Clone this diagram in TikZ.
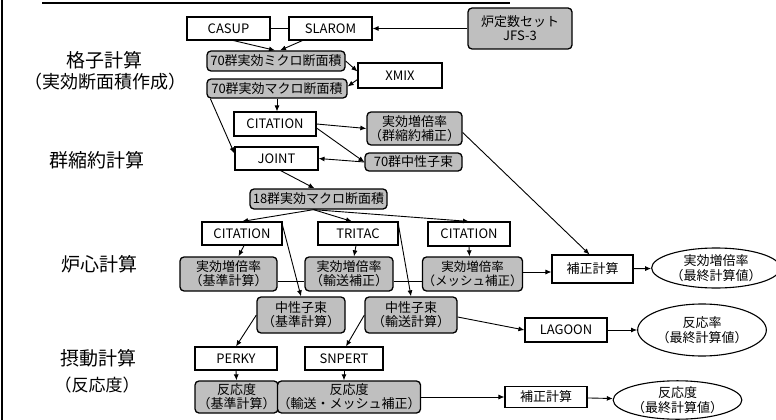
\documentclass[tikz,border=0pt]{standalone}
\usepackage{fontspec}
\setmainfont{Noto Sans CJK JP}
\usetikzlibrary{arrows.meta,shapes.geometric,calc}
\begin{document}
\begin{tikzpicture}[x=1pt,y=-1pt,
  prog/.style={draw, line width=1.1pt, fill=white, inner sep=0pt, font=\fontsize{13}{14}\selectfont},
  dat/.style={draw, line width=1.3pt, fill=gray!50, rounded corners=4pt, inner sep=0pt, align=center, font=\fontsize{13}{14}\selectfont},
  fin/.style={draw, ellipse, line width=1.1pt, fill=white, inner sep=0pt, align=center, font=\fontsize{13}{15}\selectfont},
  lbl/.style={font=\fontsize{19}{22}\selectfont, align=center},
  arr/.style={-{Latex[length=6pt,width=5pt]}, line width=0.9pt},
  ln/.style={line width=0.9pt}]
\useasboundingbox (0,0) rectangle (776,420);
\fill[white] (0,0) rectangle (776,420);
\draw[line width=1.5pt] (2,0) -- (2,420);
\draw[line width=1.5pt] (42,3) -- (510,3);

% left labels
\node[lbl] (l1) at (104,60) {格子計算};
\node[lbl, font=\fontsize{18}{21}\selectfont] (l1b) at (105,82) {（実効断面積作成）};
\node[lbl] (l2) at (97,160) {群縮約計算};
\node[lbl] (l3) at (99,264) {炉心計算};
\node[lbl] (l4) at (98,358) {摂動計算};
\node[lbl, font=\fontsize{17}{20}\selectfont] (l4b) at (97,385) {（反応度）};

% nodes
\node[prog, minimum width=83pt, minimum height=23pt] (casup) at (228.5,28.5) {CASUP};
\node[prog, minimum width=83pt, minimum height=23pt] (slarom) at (330.5,28.5) {SLAROM};
\node[dat, minimum width=104pt, minimum height=41pt] (jfs) at (520,28.5) {炉定数セット\\JFS-3};
\node[dat, minimum width=138pt, minimum height=20pt] (micro) at (276,61) {70群実効ミクロ断面積};
\node[prog, minimum width=84pt, minimum height=25pt] (xmix) at (400,75.5) {XMIX};
\node[dat, minimum width=140pt, minimum height=19pt] (macro) at (277,88.5) {70群実効マクロ断面積};
\node[prog, minimum width=82pt, minimum height=24pt] (cit1) at (275,124) {CITATION};
\node[dat, minimum width=95pt, minimum height=33pt] (keff1) at (414.5,128.5) {実効増倍率\\（群縮約補正）};
\node[dat, minimum width=97pt, minimum height=18pt] (flux70) at (413.5,162) {70群中性子束};
\node[prog, minimum width=83pt, minimum height=23pt] (joint) at (276.5,158.5) {JOINT};
\node[dat, minimum width=137pt, minimum height=20pt] (g18) at (318.5,199) {18群実効マクロ断面積};
\node[prog, minimum width=80pt, minimum height=23pt] (cit2) at (242,233.5) {CITATION};
\node[prog, minimum width=80pt, minimum height=23pt] (tritac) at (358,233.5) {TRITAC};
\node[prog, minimum width=82pt, minimum height=24pt] (cit3) at (469,234) {CITATION};
\node[dat, minimum width=97pt, minimum height=34pt] (keffa) at (228.5,274) {実効増倍率\\（基準計算）};
\node[dat, minimum width=88pt, minimum height=34pt] (keffb) at (349,274) {実効増倍率\\（輸送補正）};
\node[dat, minimum width=89pt, minimum height=34pt, font=\fontsize{12.5}{14}\selectfont] (keffc) at (472.5,274) {実効増倍率\\（メッシュ補正）};
\node[prog, minimum width=81pt, minimum height=28pt] (hosei1) at (592.5,269) {補正計算};
\node[fin, minimum width=110pt, minimum height=40pt] (ell1) at (716,268) {実効増倍率\\（最終計算値）};
\node[dat, minimum width=88pt, minimum height=36pt] (fluxa) at (301,315) {中性子束\\（基準計算）};
\node[dat, minimum width=92pt, minimum height=36pt] (fluxb) at (411,315) {中性子束\\（輸送計算）};
\node[prog, minimum width=82pt, minimum height=24pt] (lagoon) at (566,330) {LAGOON};
\node[fin, minimum width=121pt, minimum height=52pt] (ell2) at (702,330) {反応率\\（最終計算値）};
\node[prog, minimum width=82pt, minimum height=23pt] (perky) at (236,358.5) {PERKY};
\node[prog, minimum width=78pt, minimum height=23pt] (snpert) at (344,358.5) {SNPERT};
\node[dat, minimum width=83pt, minimum height=32pt] (reacta) at (236.5,397) {反応度\\（基準計算）};
\node[dat, minimum width=118pt, minimum height=32pt] (reactb) at (349,397) {反応度\\（輸送・メッシュ補正）};
\node[prog, minimum width=82pt, minimum height=21pt] (hosei2) at (546,397) {補正計算};
\node[fin, minimum width=111pt, minimum height=38pt] (ell3) at (677.5,400) {反応度\\（最終計算値）};

% connectors
\draw[ln] (casup) -- (slarom);
\draw[arr] (jfs) -- (slarom);
\draw[arr] ($(casup.south)+(5,0)$) -- ($(micro.north)+(-1,0)$);
\draw[arr] ($(slarom.south west)+(14,0)$) -- ($(micro.north)+(4,0)$);
\draw[arr] (micro.east) -- ($(xmix.west)+(0,-4)$);
\draw[arr] ($(xmix.west)+(0,4)$) -- ($(macro.east)+(0,-2)$);
\draw[arr] (macro.south) -- (macro.south |- cit1.north);
\draw[arr] ($(macro.south west)+(4,0)$) -- ($(joint.west)+(0,-5)$);
\draw[arr] (cit1.east) -- (keff1.west);
\draw[arr] ($(cit1.east)+(0,4)$) -- (flux70.west);
\draw[arr] (flux70.west) -- (joint.east);
\draw[arr] ($(joint.south)+(4,0)$) -- ($(g18.north)+(-4,0)$);
\draw[arr] ($(keff1.east)+(0,4)$) -- ($(hosei1.north)+(-3,0)$);
\coordinate (g18s) at ($(g18.south)+(-5,0)$);
\draw[arr] (g18s) -- (cit2.north);
\draw[arr] (g18s) -- ($(tritac.north)+(-6,0)$);
\draw[arr] (g18s) -- (cit3.north);
\draw[arr] ($(cit2.south)+(2,0)$) -- ($(keffa.north)+(10,0)$);
\draw[arr] ($(tritac.south)+(-2,0)$) -- ($(keffb.north)+(5,0)$);
\draw[arr] (cit3.south) -- ($(keffc.north)+(-3,0)$);
\draw[ln] ($(keffa.east)+(0,7)$) -- ($(keffb.west)+(0,7)$);
\draw[ln] ($(keffb.east)+(0,7)$) -- ($(keffc.west)+(0,7)$);
\draw[arr] ($(keffc.east)+(0,-2)$) -- ($(hosei1.west)+(0,3)$);
\draw[arr] (hosei1) -- (ell1);
\draw[arr] ($(cit2.north east)+(0,4)$) -- (fluxa.north);
\draw[arr] ($(tritac.north east)+(0,4)$) -- (fluxb.north);
\draw[arr] (fluxa.west) -- (perky.north);
\draw[arr] (fluxb.west) -- ($(snpert.north)+(2,0)$);
\draw[arr] (perky.south) -- (reacta.north);
\draw[arr] (snpert.south) -- (snpert.south |- reactb.north);
\draw[arr] ($(fluxb.east)+(0,2)$) -- (lagoon.west);
\draw[arr] (lagoon) -- (ell2);
\draw[arr] (reactb) -- (hosei2);
\draw[arr] (hosei2) -- (ell3);
\end{tikzpicture}
\end{document}
